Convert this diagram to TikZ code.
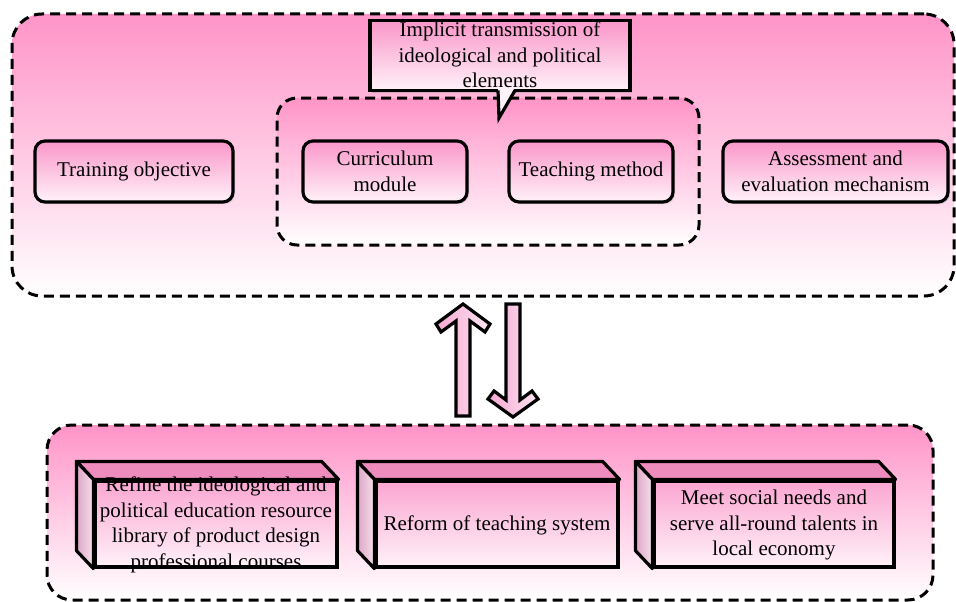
\documentclass[tikz,border=0pt]{standalone}
\usepackage{fontspec}
\setmainfont{Liberation Serif}
\usetikzlibrary{calc,shadows}
\definecolor{cpink}{RGB}{255,148,200}
\definecolor{bpink}{RGB}{250,150,202}
\definecolor{bwhite}{RGB}{255,242,248}
\definecolor{toppink}{RGB}{238,140,190}
\definecolor{sidepink}{RGB}{222,165,198}
\definecolor{sidelight}{RGB}{245,225,236}
\definecolor{arrowpink}{RGB}{246,168,210}
\definecolor{arrowlight}{RGB}{255,228,242}
\tikzset{
  container/.style={draw=black, line width=3pt, dash pattern=on 10pt off 6pt,
    top color=cpink, bottom color=white, inner sep=0pt},
  rbox/.style={draw=black, line width=3.2pt, rounded corners=10pt,
    top color=bpink, bottom color=bwhite, minimum height=61pt, inner sep=0pt,
    align=center, drop shadow={opacity=0.25, shadow xshift=2pt, shadow yshift=-2pt}},
  front/.style={draw=black, line width=3.2pt, top color=bpink!85, bottom color=bwhite,
    minimum height=86pt, inner sep=0pt,
    drop shadow={opacity=0.2, shadow xshift=2pt, shadow yshift=-2pt}},
  topface/.style={draw=black, line width=3.2pt, line join=round, fill=toppink},
  sideface/.style={draw=black, line width=3.2pt, line join=round, left color=sidepink, right color=sidelight},
  txt/.style={align=center, inner sep=0pt, font=\fontsize{21}{25.5}\selectfont},
  blockarrow/.style={draw=black, line width=3.2pt, line join=miter, left color=arrowpink, right color=arrowlight}
}
\begin{document}
\begin{tikzpicture}[x=1pt,y=-1pt]
\useasboundingbox (0,0) rectangle (956,602);
% top container
\node[container, rounded corners=30pt, minimum width=942pt, minimum height=282pt] (top) at (483,155) {};
% inner container
\node[container, rounded corners=20pt, minimum width=422pt, minimum height=147pt] (inner) at (488,171.5) {};
% callout
\node[draw=black, line width=3.2pt, top color=bpink, bottom color=bwhite, minimum width=260pt, minimum height=70pt, inner sep=0pt,
  drop shadow={opacity=0.3, shadow xshift=2pt, shadow yshift=-2pt}] (call) at (500,55.5) {};
\coordinate (tip) at (499,118);
\fill[bwhite] (498,87) -- (tip) -- (515,87) -- cycle;
\draw[line width=3.2pt, line join=miter] (498,90.5) -- (tip) -- (515,90.5);
\node[txt] (calltxt) at (500,55) {Implicit transmission of\\ideological and political\\elements};
% boxes in top container
\node[rbox, minimum width=198pt] (train) at (134,171.5) {};
\node[txt] at (train) {Training objective};
\node[rbox, minimum width=164pt] (curr) at (385,171.5) {};
\node[txt] at (curr) {Curriculum\\module};
\node[rbox, minimum width=164pt] (teach) at (591,171.5) {};
\node[txt] at (teach) {Teaching method};
\node[rbox, minimum width=225pt] (assess) at (835.5,171.5) {};
\node[txt] at (assess) {Assessment and\\evaluation mechanism};
% arrows
\draw[blockarrow] (463,304) -- (490,324) -- (485,332) -- (470,321) -- (470,416) -- (456,416) -- (456,321) -- (441,332) -- (436,324) -- cycle;
\draw[blockarrow] (506,304) -- (520,304) -- (520,400) -- (532,391) -- (538,399) -- (513,417) -- (488,399) -- (494,391) -- (506,400) -- cycle;
% bottom container
\node[container, rounded corners=25pt, minimum width=886pt, minimum height=175pt] (bottom) at (490,512.5) {};
% 3D boxes
\foreach \n/\cx/\w in {f1/216/242, f2/497/242, f3/774/240}{
  \node[front, minimum width=\w pt] (\n) at (\cx,524) {};
  \draw[topface] (\n.north west) -- ($(\n.north west)+(-17,-18)$) -- ($(\n.north east)+(-17,-18)$) -- (\n.north east) -- cycle;
  \draw[sideface] (\n.north west) -- ($(\n.north west)+(-17,-18)$) -- ($(\n.south west)+(-17,-18)$) -- (\n.south west) -- cycle;
}
\node[txt] at ($(f1)+(0,1)$) {Refine the ideological and\\political education resource\\library of product design\\professional courses};
\node[txt] at ($(f2)+(0,1)$) {Reform of teaching system};
\node[txt] at ($(f3)+(0,1)$) {Meet social needs and\\serve all-round talents in\\local economy};
\end{tikzpicture}
\end{document}
